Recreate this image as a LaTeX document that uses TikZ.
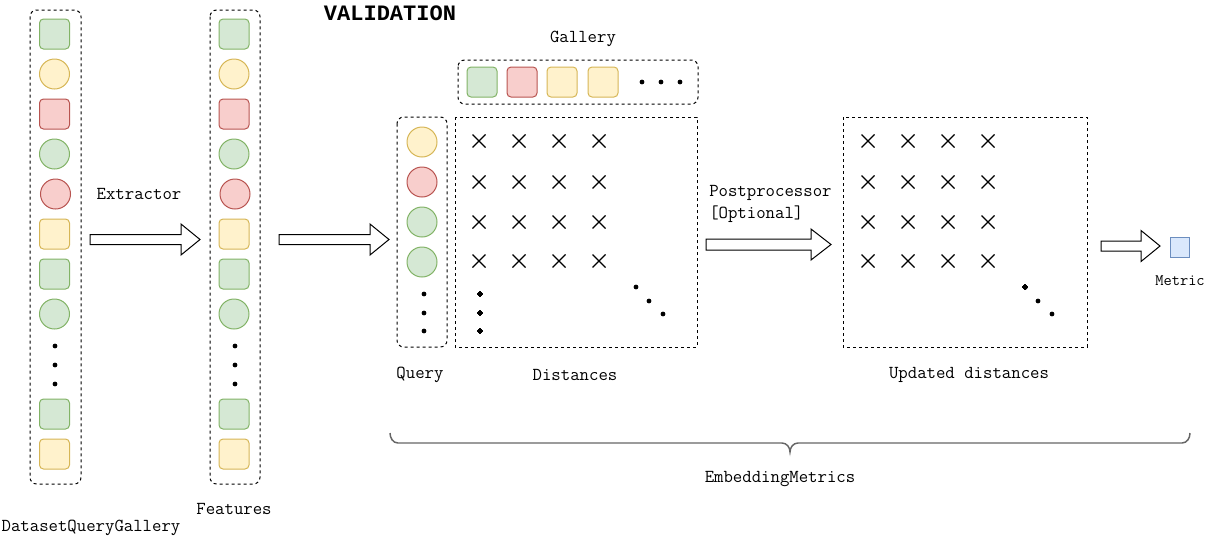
\documentclass[tikz,border=0pt]{standalone}
\usepackage{fontspec}
\newfontfamily\boldmono{Liberation Mono}
\usepackage{tikz}

\definecolor{grnL}{HTML}{D5E8D4}
\definecolor{grnD}{HTML}{82B366}
\definecolor{yelL}{HTML}{FFF2CC}
\definecolor{yelD}{HTML}{D6B656}
\definecolor{redL}{HTML}{F8CECC}
\definecolor{redD}{HTML}{B85450}
\definecolor{bluL}{HTML}{DAE8FC}
\definecolor{bluD}{HTML}{6C8EBF}

\tikzset{
  x=0.75pt, y=-0.75pt,
  lbl/.style={font=\ttfamily\fontsize{13.7}{15.5}\selectfont, inner sep=0pt},
  sq/.style={rectangle, rounded corners=3pt, minimum size=22.5pt, inner sep=0pt, line width=0.75pt},
  circ/.style={circle, minimum size=22.5pt, inner sep=0pt, line width=0.75pt},
  grn/.style={draw=grnD, fill=grnL},
  yel/.style={draw=yelD, fill=yelL},
  red/.style={draw=redD, fill=redL},
  dashbox/.style={draw, line width=0.75pt, dash pattern=on 2.25pt off 2.25pt},
  dot/.style={circle, fill, inner sep=0pt, minimum size=3.6pt},
  cross/.style={line width=1pt}
}

\newcommand{\blockarrow}[6]{% tail, tip, y, shaft, head, head length
  \draw[fill=white, line width=0.75pt] (#1,#3-#4) -- (#2-#6,#3-#4) -- (#2-#6,#3-#5) -- (#2,#3)
    -- (#2-#6,#3+#5) -- (#2-#6,#3+#4) -- (#1,#3+#4) -- cycle;}
\newcommand{\xmark}[2]{%
  \draw[cross] (#1-6.5,#2-6.5) -- (#1+6.5,#2+6.5) (#1-6.5,#2+6.5) -- (#1+6.5,#2-6.5);}

\begin{document}
\begin{tikzpicture}
  \useasboundingbox (0,0) rectangle (1209,540);

  \node[inner sep=0pt, font=\boldmono\bfseries\fontsize{16.5}{18}\selectfont] (valid) at (390,13) {VALIDATION};

  % dataset column
  \draw[dashbox, rounded corners=5pt] (30,10) rectangle (81,484);
  \node[sq, grn] (dq1) at (54.5,34) {};
  \node[circ, yel] (dq2) at (54.5,74) {};
  \node[sq, red] (dq3) at (54.5,114) {};
  \node[circ, grn] (dq4) at (54.5,154) {};
  \node[circ, red] (dq5) at (55.5,194) {};
  \node[sq, yel] (dq6) at (54.5,234) {};
  \node[sq, grn] (dq7) at (54.5,274) {};
  \node[circ, grn] (dq8) at (54.5,314) {};
  \node[sq, grn] (dq9) at (54.5,414) {};
  \node[sq, yel] (dq10) at (54.5,454) {};
  \foreach \y in {346,365,384} \node[dot] at (55,\y) {};
  \node[lbl] (dqlabel) at (91,528) {DatasetQueryGallery};

  % features column
  \draw[dashbox, rounded corners=5pt] (210,10) rectangle (260,484);
  \node[sq, grn] (f1) at (234,34) {};
  \node[circ, yel] (f2) at (234,74) {};
  \node[sq, red] (f3) at (234,114) {};
  \node[circ, grn] (f4) at (234,154) {};
  \node[circ, red] (f5) at (235,194) {};
  \node[sq, yel] (f6) at (234,234) {};
  \node[sq, grn] (f7) at (234,274) {};
  \node[circ, grn] (f8) at (234,314) {};
  \node[sq, grn] (f9) at (234,414) {};
  \node[sq, yel] (f10) at (234,454) {};
  \foreach \y in {346,365,384} \node[dot] at (235,\y) {};
  \node[lbl] (flabel) at (234,509) {Features};

  \node[lbl] (extractor) at (139,194) {Extractor};
  \blockarrow{90}{200}{239.5}{5}{15.5}{19}
  \blockarrow{279}{389}{239.5}{5}{15.5}{19}

  % gallery
  \node[lbl] (glabel) at (583,39) {Gallery};
  \draw[dashbox, rounded corners=5pt] (458,60) rectangle (698,104);
  \node[sq, grn] (g1) at (482,82) {};
  \node[sq, red] (g2) at (522,82) {};
  \node[sq, yel] (g3) at (562,82) {};
  \node[sq, yel] (g4) at (603,82) {};
  \foreach \x in {642,661,680} \node[dot] at (\x,82) {};

  % query
  \draw[dashbox, rounded corners=5pt] (397,117) rectangle (447,347);
  \node[circ, yel] (q1) at (422,142) {};
  \node[circ, red] (q2) at (422,182) {};
  \node[circ, grn] (q3) at (422,222) {};
  \node[circ, grn] (q4) at (422,262) {};
  \foreach \y in {294,313,331} \node[dot] at (424,\y) {};
  \node[lbl] (qlabel) at (420,375) {Query};

  % distances
  \draw[dashbox] (455,117) rectangle (697,347);
  \foreach \x in {479,519,559,599}
    \foreach \y in {141,182,222,261}
      \xmark{\x}{\y}
  \foreach \y in {294,313,331} \node[dot] at (480,\y) {};
  \node[dot] at (636,287) {};
  \node[dot] at (649,301) {};
  \node[dot] at (663,314) {};
  \node[lbl] (dlabel) at (575,375) {Distances};

  \node[lbl, align=left, anchor=west] (post) at (709,204) {Postprocessor\\[1pt][Optional]};
  \blockarrow{706}{831}{244.5}{5.5}{15.5}{20}

  % updated distances
  \draw[dashbox] (843,117) rectangle (1087,347);
  \foreach \x in {868,908,948,988}
    \foreach \y in {141,182,222,261}
      \xmark{\x}{\y}
  \node[dot] at (1025,287) {};
  \node[dot] at (1038,301) {};
  \node[dot] at (1052,314) {};
  \node[lbl] (ulabel) at (969,375) {Updated distances};

  \blockarrow{1101}{1160}{246}{5}{15.5}{19}
  \node[rectangle, draw=bluD, fill=bluL, line width=0.75pt, minimum width=14.25pt, minimum height=15pt, inner sep=0pt] (metric) at (1179.5,247) {};
  \node[lbl, font=\ttfamily\fontsize{12}{13}\selectfont] (mlabel) at (1180,281) {Metric};

  % brace
  \coordinate (bl) at (390,433);
  \coordinate (br) at (1190,433);
  \coordinate (btip) at (790,452);
  \draw[draw=black!60, line width=1.1pt] (bl) to[out=-90,in=180] (398,443) -- (782,443)
    to[out=0,in=90] (btip) to[out=90,in=180] (798,443) -- (1182,443) to[out=0,in=-90] (br);
  \node[lbl] (emlabel) at (780,479) {EmbeddingMetrics};
\end{tikzpicture}
\end{document}
